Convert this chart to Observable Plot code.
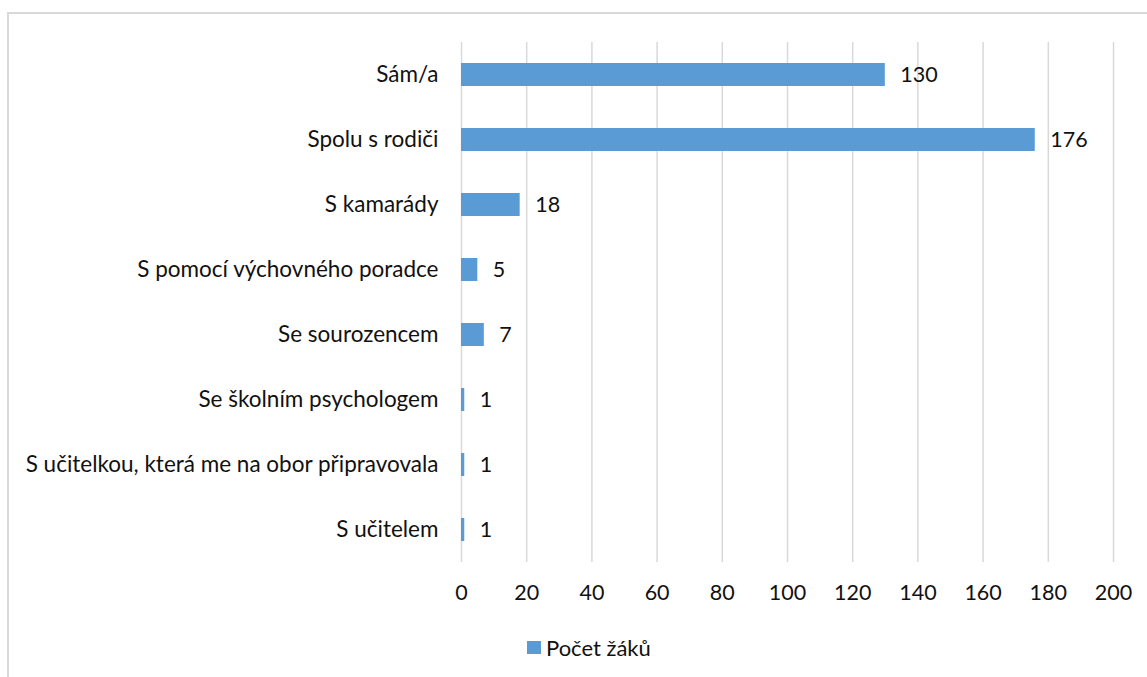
<!DOCTYPE html>
<html><head><meta charset="utf-8">
<script src="https://cdn.jsdelivr.net/npm/d3@7"></script>
<script src="https://cdn.jsdelivr.net/npm/@observablehq/plot@0.6"></script>
<style>
body{margin:0;background:#fff;font-family:Lato,sans-serif;overflow:hidden;width:1147px;height:677px;position:relative;}
#frame{position:absolute;left:7px;top:12px;width:1160px;height:700px;border-left:2px solid #d9d9d9;border-top:2px solid #d9d9d9;}
#chart{position:absolute;left:0;top:0;}
#legend{position:absolute;left:527px;top:634px;font-size:22px;color:#111;display:flex;align-items:center;white-space:nowrap;}
#legend .sw{display:inline-block;width:14px;height:13px;background:#5b9bd5;margin-right:5px;}
</style></head>
<body>
<div id="frame"></div>
<div id="chart"></div>
<div id="legend"><span class="sw"></span><span id="legtext"></span></div>
<script>
const categories = ["Sám/a","Spolu s rodiči","S kamarády","S pomocí výchovného poradce","Se sourozencem","Se školním psychologem","S učitelkou, která me na obor připravovala","S učitelem"];
const values = [130,176,18,5,7,1,1,1];
const xTicks = [0,20,40,60,80,100,120,140,160,180,200];
const seriesName = "Počet žáků";

const data = categories.map((c,i)=>({cat:c, value:values[i]}));
const color = "#5b9bd5";

const chart = Plot.plot({
  width:1147, height:610,
  marginLeft:461, marginRight:34, marginTop:42, marginBottom:48,
  style:{fontFamily:"Lato, sans-serif", fontSize:"22px", color:"#111", background:"transparent"},
  x:{domain:[0,200]},
  y:{domain:categories, paddingInner:0.646, paddingOuter:0.323},
  marks:[
    Plot.gridX(xTicks,{stroke:"#d9d9d9", strokeOpacity:1, strokeWidth:1.5}),
    Plot.barX(data,{x:"value", y:"cat", fill:color}),
    Plot.text(data,{x:"value", y:"cat", text:d=>String(d.value), textAnchor:"start", dx:15, fontSize:21.5, fill:"#111"}),
    Plot.axisY({tickSize:0, tickPadding:23, label:null, fontSize:22.5}),
    Plot.axisX({ticks:xTicks, tickSize:0, tickPadding:22, label:null, fontSize:21.5, tickFormat:d=>String(d)})
  ]
});
document.getElementById("chart").appendChild(chart);
document.getElementById("legtext").textContent = seriesName;
</script>
</body></html>
